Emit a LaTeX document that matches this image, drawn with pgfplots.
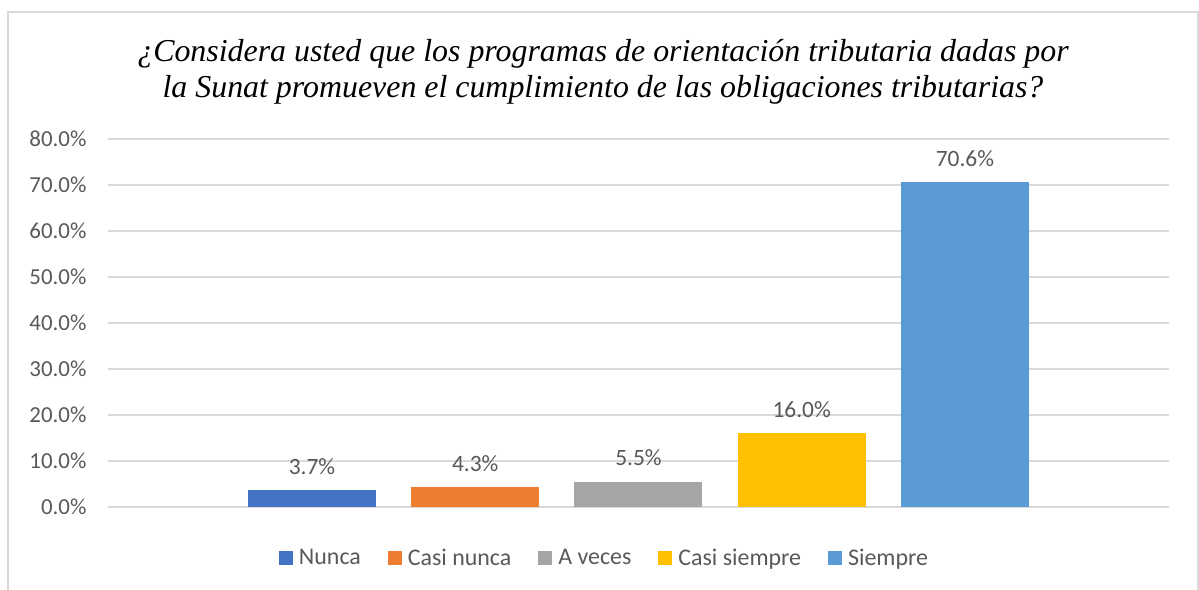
\documentclass[border=0pt]{standalone}
\usepackage{fontspec}
\setmainfont{Liberation Serif}
\newfontfamily\calib{Carlito}
\usepackage{pgfplots}
\pgfplotsset{compat=1.18}
\definecolor{c1}{HTML}{4472C4}
\definecolor{c2}{HTML}{ED7D31}
\definecolor{c3}{HTML}{A5A5A5}
\definecolor{c4}{HTML}{FFC000}
\definecolor{c5}{HTML}{5B9BD5}
\definecolor{txt}{HTML}{595959}
\definecolor{grd}{HTML}{D9D9D9}
\begin{document}
\begin{tikzpicture}
\path[use as bounding box] (0,0) rectangle (1199bp,590bp);
\draw[grd, line width=1.2bp] (8bp,-20bp) rectangle (1198bp,578bp);
\node[align=center, text=black, font=\itshape\fontsize{32}{35.5}\selectfont] at (603bp,518bp)
 {¿Considera usted que los programas de orientación tributaria dadas por\\la Sunat promueven el cumplimiento de las obligaciones tributarias?};
\begin{axis}[
  at={(108bp,83bp)}, anchor=south west,
  scale only axis, width=1061bp, height=368bp,
  xmin=-1.25, xmax=5.25, ymin=0, ymax=80,
  ytick={0,10,...,80},
  xtick=\empty,
  ymajorgrids, grid style={grd, line width=1.2bp},
  axis line style={draw=none},
  major tick length=0pt,
  /pgf/number format/assume math mode=true,
  yticklabel={\pgfmathprintnumber[fixed,fixed zerofill,precision=1]{\tick}\%},
  yticklabel style={text=txt, font=\calib\fontsize{23}{27}\selectfont, xshift=-18bp},
  ybar, bar width=0.784, bar shift=0pt,
  nodes near coords={\pgfmathprintnumber[fixed,fixed zerofill,precision=1]{\pgfplotspointmeta}\%},
  nodes near coords style={text=txt, font=\calib\fontsize{23.5}{28}\selectfont, yshift=12bp},
  legend style={at={(0.468,-0.1386)}, anchor=center, draw=none, legend columns=-1,
    font=\calib\fontsize{24}{28}\selectfont, text=txt,
    /tikz/every odd column/.append style={column sep=4bp},
    /tikz/every even column/.append style={column sep=25bp}},
  legend image code/.code={\fill[#1] (0bp,-7bp) rectangle (14bp,7bp);},
]
\addplot[fill=c1, draw=none] coordinates {(0,3.7)};
\addplot[fill=c2, draw=none] coordinates {(1,4.3)};
\addplot[fill=c3, draw=none] coordinates {(2,5.5)};
\addplot[fill=c4, draw=none] coordinates {(3,16.0)};
\addplot[fill=c5, draw=none] coordinates {(4,70.6)};
\legend{Nunca,Casi nunca,A veces,Casi siempre,Siempre}
\end{axis}
\end{tikzpicture}
\end{document}
